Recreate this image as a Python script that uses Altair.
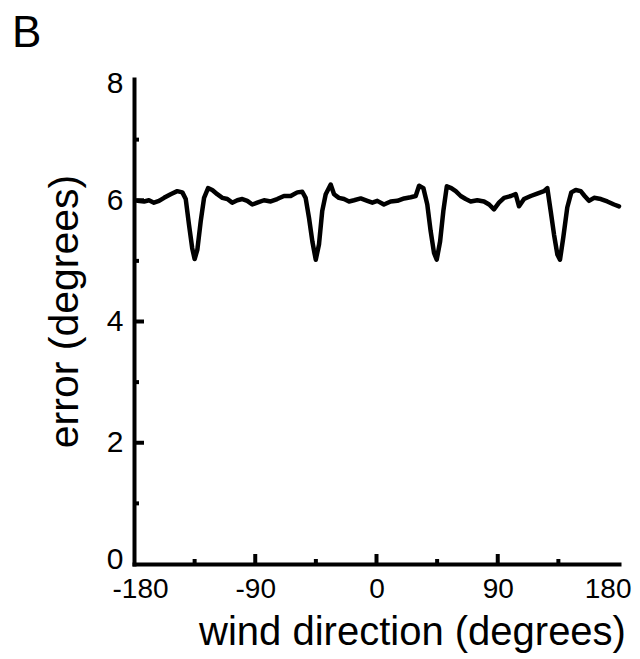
import altair as alt
import pandas as pd

# wind direction (degrees) and error (degrees)
wind = [-177.5, -172.5, -168.9, -165.2, -161.4, -157.7, -152.8, -147.9, -144.1, -141.6,
        -139.2, -136.8, -135.0, -133.0, -130.5, -128.0, -125.0, -121.9, -118.2, -114.4,
        -110.7, -107.1, -103.3, -99.6, -95.9, -92.2,
        -88.5, -83.5, -78.5, -73.7, -68.7, -63.7, -58.8, -55.1, -52.6, -50.1,
        -47.6, -45.1, -42.7, -40.3, -37.7, -34.0, -31.5, -27.9, -24.1, -20.4,
        -16.7, -11.7, -6.8, -3.1,
        0.6, 5.5, 10.5, 15.5, 20.5, 25.4, 29.1, 31.6, 34.8, 37.7,
        40.2, 42.7, 44.7, 47.2, 49.6, 52.2, 55.5, 58.8, 62.5, 66.2,
        69.9, 74.8, 79.8, 83.6, 87.2,
        90.9, 94.7, 99.7, 103.3, 105.8, 109.5, 114.5, 119.3, 124.3, 126.8,
        129.3, 131.8, 134.3, 136.2, 138.6, 141.6, 144.6, 147.9, 151.6, 154.5,
        157.7, 161.5, 166.5, 171.3, 176.3, 180.0]
error = [5.99, 5.98, 6.00, 5.96, 5.99, 6.04, 6.10, 6.15, 6.13, 6.02,
         5.60, 5.21, 5.03, 5.18, 5.65, 6.04, 6.20, 6.17, 6.10, 6.04,
         6.02, 5.96, 6.00, 6.02, 5.99, 5.93,
         5.96, 6.00, 5.98, 6.02, 6.07, 6.07, 6.13, 6.14, 6.04, 5.71,
         5.32, 5.02, 5.27, 5.82, 6.10, 6.26, 6.10, 6.04, 6.02, 5.98,
         6.00, 6.03, 5.99, 5.96,
         5.99, 5.93, 5.98, 5.99, 6.03, 6.05, 6.07, 6.24, 6.20, 5.93,
         5.49, 5.13, 5.02, 5.32, 5.82, 6.23, 6.20, 6.15, 6.07, 6.02,
         5.98, 6.00, 5.98, 5.93, 5.85,
         5.96, 6.04, 6.07, 6.10, 5.90, 6.02, 6.07, 6.11, 6.15, 6.20,
         5.82, 5.43, 5.10, 5.02, 5.38, 5.88, 6.13, 6.17, 6.15, 6.07,
         5.99, 6.04, 6.02, 5.98, 5.93, 5.90]

x_tick_labels = [-180, -90, 0, 90, 180]
y_tick_labels = [0, 2, 4, 6, 8]
x_major_inner = [-90, 0, 90]
x_minor_inner = [-135, -45, 45, 135]
y_major_inner = [2, 4, 6]
y_minor_inner = [1, 3, 5, 7]

W, H = 485, 485
FONT = "Liberation Sans"

xscale = alt.Scale(domain=[-180, 180], nice=False, zero=False)
yscale = alt.Scale(domain=[0, 8], nice=False, zero=False)

df = pd.DataFrame({"wind": wind, "error": error})

line = alt.Chart(df).mark_line(color="black", strokeWidth=4.5, strokeJoin="round", strokeCap="round").encode(
    x=alt.X("wind:Q", scale=xscale,
            axis=alt.Axis(values=x_tick_labels, title="wind direction (degrees)",
                          titleX=278, titleY=80, titleAlign="center", titleBaseline="alphabetic",
                          titleFontSize=40, labelFontSize=28,
                          labelPadding=11, labelExpr="'' + datum.value",
                          labelAlign={"expr": "datum.value == 180 ? 'right' : 'center'"},
                          labelOffset={"expr": "datum.value == 180 ? 12 : (datum.value == -180 ? 6 : 0)"})),
    y=alt.Y("error:Q", scale=yscale,
            axis=alt.Axis(values=y_tick_labels, title="error (degrees)",
                          titleX=-57, titleY=232, titleAlign="center", titleBaseline="alphabetic",
                          titleAngle=270, titleFontSize=41,
                          labelPadding=11, labelExpr="'' + datum.value",
                          labelOffset={"expr": "datum.value == 0 ? -5 : (datum.value == 8 ? 4 : 0)"})),
)

xmaj = alt.Chart(pd.DataFrame({"wind": x_major_inner})).mark_rule(
    color="black", strokeWidth=4, strokeCap="butt").encode(
    x=alt.X("wind:Q", scale=xscale), y=alt.value(H), y2=alt.value(H - 10))
xmin = alt.Chart(pd.DataFrame({"wind": x_minor_inner})).mark_rule(
    color="black", strokeWidth=4, strokeCap="butt").encode(
    x=alt.X("wind:Q", scale=xscale), y=alt.value(H), y2=alt.value(H - 5))
ymaj = alt.Chart(pd.DataFrame({"error": y_major_inner})).mark_rule(
    color="black", strokeWidth=4, strokeCap="butt").encode(
    y=alt.Y("error:Q", scale=yscale), x=alt.value(0), x2=alt.value(10))
ymin = alt.Chart(pd.DataFrame({"error": y_minor_inner})).mark_rule(
    color="black", strokeWidth=4, strokeCap="butt").encode(
    y=alt.Y("error:Q", scale=yscale), x=alt.value(0), x2=alt.value(5))

panel = alt.Chart(pd.DataFrame({"t": ["B"]})).mark_text(
    font=FONT, fontSize=44, align="left", baseline="top", color="black").encode(
    text="t:N", x=alt.value(-122), y=alt.value(-67))

chart = alt.layer(line, xmaj, xmin, ymaj, ymin, panel).properties(
    width=W, height=H,
    autosize=alt.AutoSizeParams(type="none"),
    padding={"left": 126, "top": 71, "right": 13, "bottom": 89},
).configure_view(stroke=None).configure_axis(
    grid=False, ticks=False, tickSize=0,
    domainColor="black", domainWidth=4, domainCap="square",
    labelFont=FONT, labelFontSize=30, labelColor="black",
    titleFont=FONT, titleFontSize=41, titleColor="black", titleFontWeight="normal",
    labelFlush=False, labelOverlap=False,
)

chart.save("out.html", embed_options={"renderer": "svg", "actions": False})
